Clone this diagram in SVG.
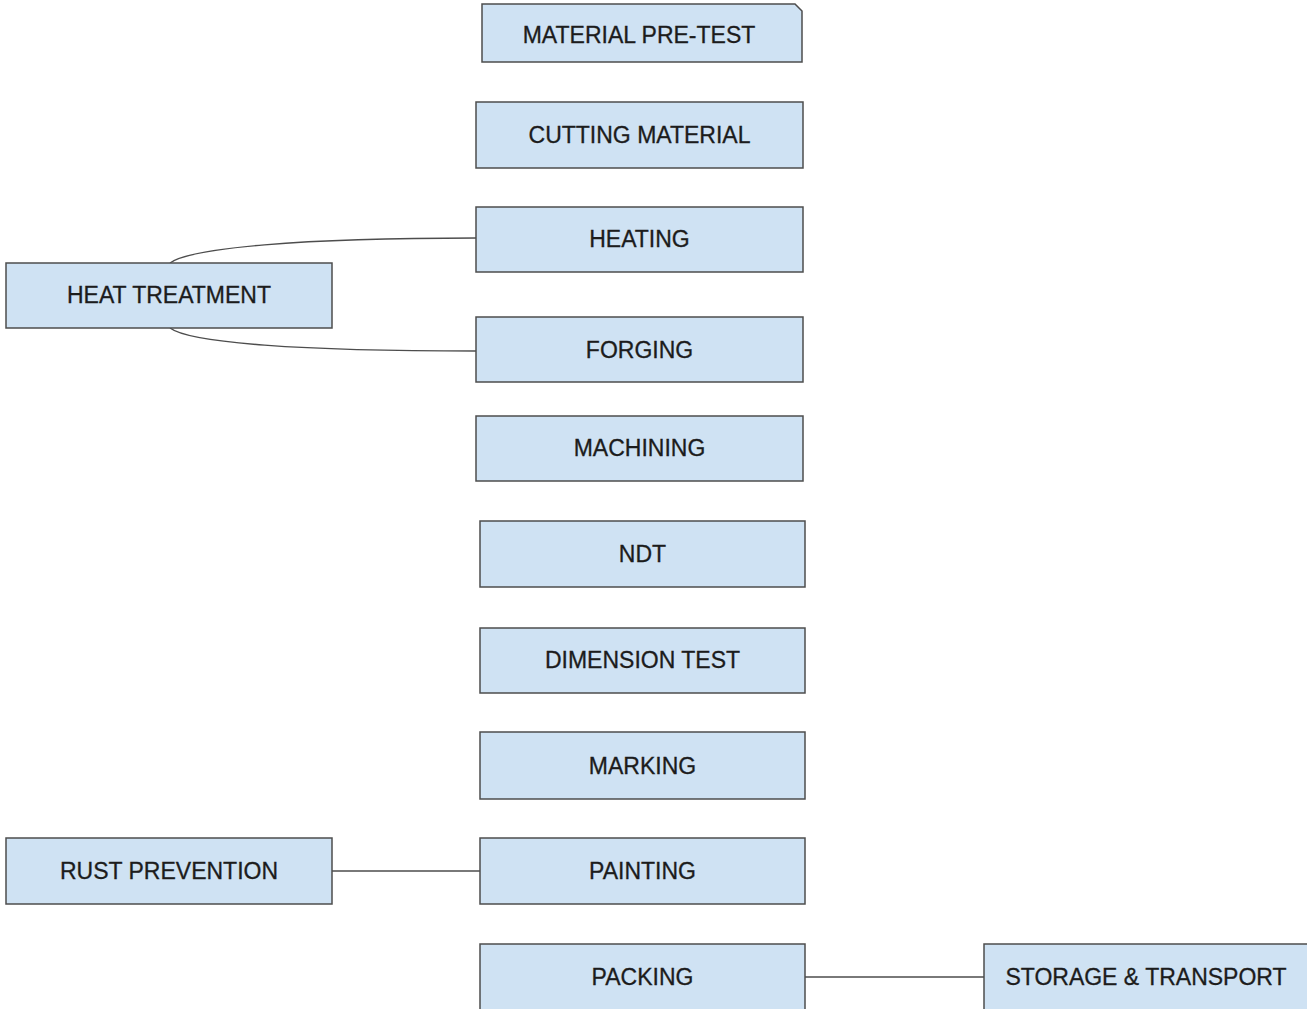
<svg xmlns="http://www.w3.org/2000/svg" width="1307" height="1009" viewBox="0 0 1307 1009">
<style>
.box{fill:#cfe2f3;stroke:#4d4d4d;stroke-width:1.5}
.lbl{font-family:"Liberation Sans",Arial,sans-serif;font-size:23px;fill:#1c1c1c;stroke:#1c1c1c;stroke-width:0.3;text-anchor:middle}
.con{fill:none;stroke:#4d4d4d;stroke-width:1.4}
</style>
<rect width="1307" height="1009" fill="#fff"/>
<g id="connectors">
<path class="con" d="M170,263 C190,248 300,238 476,238"/>
<path class="con" d="M170,328 C190,343 300,351 476,351"/>
<path class="con" d="M332,871 L480,871"/>
<path class="con" d="M805,977 L984,977"/>
</g>
<g id="material-pre-test"><path class="box" d="M482,4 H795 L802,11 V62 H482 Z"/><text class="lbl" x="639" y="43">MATERIAL PRE-TEST</text></g>
<g id="cutting-material"><rect class="box" x="476" y="102" width="327" height="66"/><text class="lbl" x="639.5" y="143">CUTTING MATERIAL</text></g>
<g id="heating"><rect class="box" x="476" y="207" width="327" height="65"/><text class="lbl" x="639.5" y="247">HEATING</text></g>
<g id="heat-treatment"><rect class="box" x="6" y="263" width="326" height="65"/><text class="lbl" x="169" y="303">HEAT TREATMENT</text></g>
<g id="forging"><rect class="box" x="476" y="317" width="327" height="65"/><text class="lbl" x="639.5" y="358">FORGING</text></g>
<g id="machining"><rect class="box" x="476" y="416" width="327" height="65"/><text class="lbl" x="639.5" y="456">MACHINING</text></g>
<g id="ndt"><rect class="box" x="480" y="521" width="325" height="66"/><text class="lbl" x="642.5" y="562">NDT</text></g>
<g id="dimension-test"><rect class="box" x="480" y="628" width="325" height="65"/><text class="lbl" x="642.5" y="668">DIMENSION TEST</text></g>
<g id="marking"><rect class="box" x="480" y="732" width="325" height="67"/><text class="lbl" x="642.5" y="774">MARKING</text></g>
<g id="rust-prevention"><rect class="box" x="6" y="838" width="326" height="66"/><text class="lbl" x="169" y="879">RUST PREVENTION</text></g>
<g id="painting"><rect class="box" x="480" y="838" width="325" height="66"/><text class="lbl" x="642.5" y="879">PAINTING</text></g>
<g id="packing"><rect class="box" x="480" y="944" width="325" height="70"/><text class="lbl" x="642.5" y="985">PACKING</text></g>
<g id="storage-transport"><rect class="box" x="984" y="944" width="328" height="70"/><text class="lbl" x="1146" y="985">STORAGE &amp; TRANSPORT</text></g>
</svg>
